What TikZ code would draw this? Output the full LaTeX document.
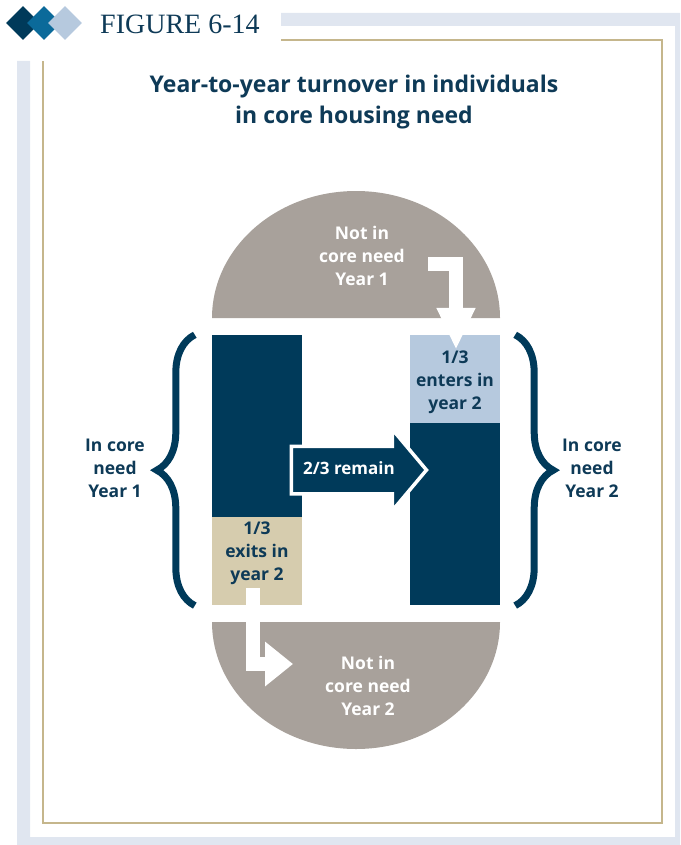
\documentclass[tikz,border=0pt]{standalone}
\usepackage{fontspec}
\setmainfont{Liberation Serif}
\setsansfont{Open Sans}
\definecolor{navy}{HTML}{003A5A}
\definecolor{midblue}{HTML}{0B6A9A}
\definecolor{paleblue}{HTML}{B6C9DE}
\definecolor{domegrey}{HTML}{A8A19B}
\definecolor{tan}{HTML}{D6CCAE}
\definecolor{bandblue}{HTML}{E0E6F0}
\definecolor{gold}{HTML}{C5B68C}
\definecolor{textnavy}{HTML}{0E3A57}
\usetikzlibrary{arrows.meta, positioning, shapes.geometric, shapes.arrows, decorations.pathreplacing}

\begin{document}
\begin{tikzpicture}[
        x=1pt, y=-1pt,
        logo_node/.style={diamond, minimum size=34pt, inner sep=0pt},
        bar_node/.style={rectangle, minimum width=90pt, inner sep=0pt},
        lbl_node/.style={align=center, inner sep=0pt, font=\sffamily\bfseries\fontsize{17.5}{23}\selectfont},
        brace_line/.style={draw=navy, line width=7pt, decorate, decoration={brace, amplitude=38pt}},
        turn_arrow/.style={draw=white, line width=14pt, line join=miter},
        remain_arrow/.style={single arrow, fill=navy, draw=white, line width=3.5pt, text=white,
            font=\sffamily\bfseries\fontsize{17}{19}\selectfont, text height=12pt, text depth=3pt,
            inner xsep=8pt, inner ysep=14.5pt, minimum height=135pt,
            single arrow head extend=17pt, single arrow tip angle=100}
    ]
    \useasboundingbox (0,0) rectangle (680,845);

    % Frame
    \fill[bandblue] (281,13) -- (680,13) -- (680,845) -- (17,845) -- (17,61) -- (30,61)
        -- (30,837) -- (675,837) -- (675,26) -- (281,26) -- cycle;
    \draw[gold, line width=1.5pt] (281,40) -- (662,40) -- (662,823) -- (43,823) -- (43,61);

    % Header
    \node[logo_node, fill=navy] (dia1) at (23,23) {};
    \node[logo_node, fill=midblue] (dia2) at (44,23) {};
    \node[logo_node, fill=paleblue] (dia3) at (65,23) {};
    \node[anchor=base west, inner sep=0pt, text=textnavy, font=\fontsize{28}{30}\selectfont] (figlbl) at (100,34) {FIGURE 6-14};

    \node[align=center, inner sep=0pt, text=textnavy, font=\sffamily\bfseries\fontsize{23}{31}\selectfont] (title) at (354,102)
        {Year-to-year turnover in individuals\\in core housing need};

    % Not in core need domes
    \fill[domegrey] (212,318) arc[start angle=180, end angle=0, x radius=144pt, y radius=127pt] -- cycle;
    \fill[domegrey] (212,622) arc[start angle=180, end angle=360, x radius=144pt, y radius=127pt] -- cycle;
    \node[lbl_node, text=white] (notyr1) at (362,256) {Not in\\core need\\Year 1};
    \node[lbl_node, text=white] (notyr2) at (368,686) {Not in\\core need\\Year 2};

    % Bars
    \node[bar_node, fill=navy, minimum height=182pt] (lbar) at (257,426) {};
    \node[bar_node, fill=tan, minimum height=88pt, below=0pt of lbar] (exitbox) {};
    \node[bar_node, fill=paleblue, minimum height=88pt] (enterbox) at (455,379) {};
    \node[bar_node, fill=navy, minimum height=182pt, below=0pt of enterbox] (rbar) {};
    \node[lbl_node, text=textnavy] (exittxt) at (257,553) {1/3\\exits in\\year 2};
    \node[lbl_node, text=textnavy] (entertxt) at (455,382) {1/3\\enters in\\year 2};

    % Braces
    \draw[brace_line] ([xshift=-17pt]exitbox.south west) -- ([xshift=-17pt]lbar.north west);
    \draw[brace_line] ([xshift=15pt]enterbox.north east) -- ([xshift=15pt]rbar.south east);
    \node[lbl_node, text=textnavy] (inyr1) at (115,468) {In core\\need\\Year 1};
    \node[lbl_node, text=textnavy] (inyr2) at (592,468) {In core\\need\\Year 2};

    % Turnover arrows
    \node[remain_arrow] (remain) at (349,470) {2/3 remain};

    \coordinate (instart) at (428,264);
    \draw[turn_arrow, -{Triangle[length=42pt, width=36pt]}, shorten >=-15pt] (instart) -| ([xshift=1pt]enterbox.north);

    \coordinate (outstart) at (252.5,588);
    \coordinate (outend) at (293,664);
    \draw[turn_arrow, -{Triangle[length=28pt, width=43pt]}] (outstart) |- (outend);

\end{tikzpicture}
\end{document}
